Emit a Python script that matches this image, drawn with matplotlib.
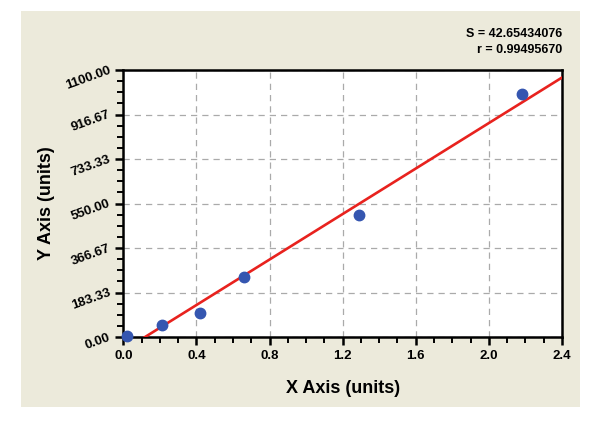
import numpy as np
import matplotlib.pyplot as plt
from matplotlib.patches import Rectangle
from matplotlib.ticker import MultipleLocator, FormatStrFormatter

# data
x_vals = [0.02, 0.21, 0.42, 0.66, 1.29, 2.18]
y_vals = [5, 50, 97, 248, 504, 1001]
x_ticks = [0.0, 0.4, 0.8, 1.2, 1.6, 2.0, 2.4]
y_ticks = list(np.linspace(0, 1100, 7))
stats_text = ["S = 42.65434076", "r = 0.99495670"]

plt.rcParams['font.family'] = ['Liberation Sans', 'DejaVu Sans']

fig = plt.figure(figsize=(6, 4.23), dpi=100, facecolor='white')

# beige panel behind the plot
panel = Rectangle((0.035, 0.038), 0.932, 0.936, transform=fig.transFigure,
                  facecolor='#ECEADB', edgecolor='none', zorder=-10)
fig.add_artist(panel)

ax = fig.add_axes([0.2055, 0.2033, 0.731, 0.6312])
ax.set_facecolor('white')

# linear fit
slope, intercept = np.polyfit(x_vals, y_vals, 1)
xl = np.array([0.0, 2.4])
ax.plot(xl, slope * xl + intercept, color='#E8221E', linewidth=1.9, zorder=3)

ax.plot(x_vals, y_vals, 'o', color='#3556B0', markersize=7.5, zorder=4, clip_on=False)

ax.set_xlim(0, 2.4)
ax.set_ylim(0, 1100)
ax.set_xticks(x_ticks)
ax.set_yticks(y_ticks)
ax.xaxis.set_minor_locator(MultipleLocator(0.1))
ax.yaxis.set_minor_locator(MultipleLocator(1100 / 24))
ax.xaxis.set_major_formatter(FormatStrFormatter('%.1f'))
ax.yaxis.set_major_formatter(FormatStrFormatter('%.2f'))

ax.grid(True, which='major', linestyle=(0, (5, 4)), color='#AAAAAA', linewidth=0.9)
ax.set_axisbelow(True)

for side in ['left', 'bottom', 'top', 'right']:
    ax.spines[side].set_linewidth(1.8)
    ax.spines[side].set_color('black')

ax.tick_params(axis='both', which='major', direction='out', length=6, width=1.8,
               labelsize=9.5)
ax.tick_params(axis='both', which='minor', direction='out', length=4, width=1.4)
for lab in ax.get_xticklabels():
    lab.set_fontweight('bold')
for lab in ax.get_yticklabels():
    lab.set_fontweight('bold')
    lab.set_rotation(20)
    lab.set_rotation_mode('anchor')
    lab.set_ha('right')
    lab.set_va('center')

ax.set_xlabel("X Axis (units)", fontsize=13, fontweight='bold', labelpad=13)
ax.set_ylabel("Y Axis (units)", fontsize=13, fontweight='bold', labelpad=6)

fig.text(0.937, 0.92, stats_text[0], ha='right', va='center', fontsize=9, fontweight='bold')
fig.text(0.937, 0.882, stats_text[1], ha='right', va='center', fontsize=9, fontweight='bold')

fig.savefig("out.png", dpi=100, facecolor='white')
